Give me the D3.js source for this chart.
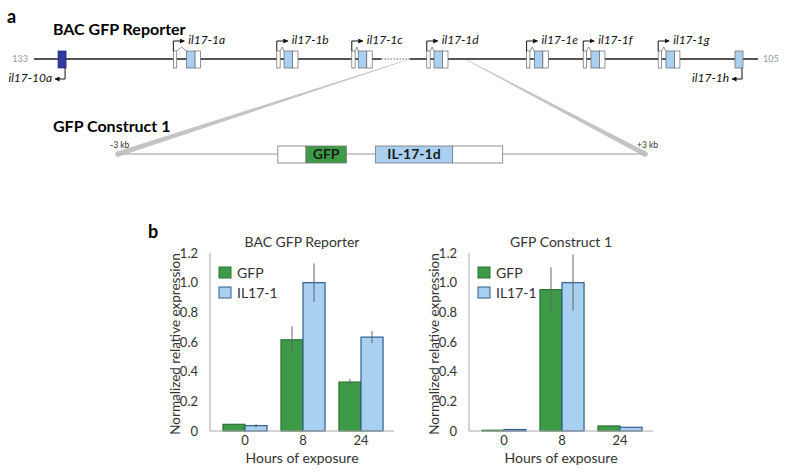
<!DOCTYPE html>
<html>
<head>
<meta charset="utf-8">
<script src="https://cdn.jsdelivr.net/npm/d3@7"></script>
<style>
  body { margin: 0; background: #fff; }
  svg { display: block; font-family: Lato, "Open Sans", sans-serif; }
</style>
</head>
<body>
<div id="chart"></div>
<script>
// ---- panel a: BAC locus (positions in kb from the left end of the BAC) ----
const bacEnds = ["133", "105"];
const bacLength = 28;
const forwardGenes = [
    { name: "il17-1a", tss: 5.39, ex2: 5.90 },
    { name: "il17-1b", tss: 9.39, ex2: 9.67 },
    { name: "il17-1c", tss: 12.29, ex2: 12.54 },
    { name: "il17-1d", tss: 15.19, ex2: 15.47 },
    { name: "il17-1e", tss: 19.05, ex2: 19.35 },
    { name: "il17-1f", tss: 21.24, ex2: 21.54 },
    { name: "il17-1g", tss: 24.14, ex2: 24.44 }
];
const reverseGenes = [
    { name: "il17-10a", start: 0.93, end: 1.24, kind: "dark" },
    { name: "il17-1h", start: 27.11, end: 27.42, kind: "light" }
];
const gapRegion = [13.44, 14.54];
const zoomRegion = [14.54, 16.67];

// construct, kb relative to il17-1d
const constructEnds = ["-3 kb", "+3 kb"];
const constructParts = [
    { label: "", start: -1.18, end: -0.86, kind: "utr" },
    { label: "GFP", start: -0.86, end: -0.40, kind: "gfp" },
    { label: "IL-17-1d", start: -0.07, end: 0.81, kind: "light" },
    { label: "", start: 0.81, end: 1.38, kind: "utr" }
];

// ---- panel b: expression ----
const hours = ["0", "8", "24"];
const seriesNames = ["GFP", "IL17-1"];
const yTicks = [0, 0.2, 0.4, 0.6, 0.8, 1.0, 1.2];
const bacGFP = [0.045, 0.615, 0.33];
const bacGFPErr = [0.004, 0.09, 0.02];
const bacIL17 = [0.036, 1.0, 0.633];
const bacIL17Err = [0.012, 0.13, 0.04];
const conGFP = [0.005, 0.953, 0.034];
const conGFPErr = [0.002, 0.15, 0.004];
const conIL17 = [0.01, 1.0, 0.025];
const conIL17Err = [0.002, 0.19, 0.003];

const colors = {
    gfp: "#3d9a47", gfpStroke: "#2c7436",
    light: "#a9d0f0", lightStroke: "#2f5f8c",
    dark: "#2e3a9e", utr: "#ffffff"
};

const W = 793, H = 475;
const svg = d3.select("#chart").append("svg").attr("width", W).attr("height", H);

// arrowhead marker
svg.append("defs").append("marker")
    .attr("id", "arr").attr("viewBox", "0 0 10 10")
    .attr("refX", 9).attr("refY", 5)
    .attr("markerWidth", 5).attr("markerHeight", 5)
    .attr("markerUnits", "userSpaceOnUse")
    .attr("orient", "auto")
    .append("path").attr("d", "M0,0L10,5L0,10Z").attr("fill", "#111");

// ================= panel a =================
const gx = d3.scaleLinear().domain([0, bacLength]).range([34, 758]);
const lineY = 59, exTop = 51, exH = 17;

svg.append("text").attr("x", 7).attr("y", 23).style("font-size", "18px").style("font-weight", "bold").text("a");
svg.append("text").attr("x", 53).attr("y", 35).style("font-size", "16px").style("font-weight", "bold").text("BAC GFP Reporter");

// zoom wedges to construct
const cx = d3.scaleLinear().domain([-3, 3]).range([118, 645]);
const cY = 154;
function wedge(x1, y1, x2, y2) {
    const dx = x2 - x1, dy = y2 - y1, len = Math.hypot(dx, dy);
    const nx = -dy / len, ny = dx / len;
    const w1 = 0.3, w2 = 2.6;
    return [[x1 + nx * w1, y1 + ny * w1], [x2 + nx * w2, y2 + ny * w2],
            [x2 - nx * w2, y2 - ny * w2], [x1 - nx * w1, y1 - ny * w1]];
}
[[zoomRegion[0], -3], [zoomRegion[1], 3]].forEach(([g, c]) => {
    svg.append("path")
        .attr("d", d3.line()(wedge(gx(g), lineY, cx(c), cY)) + "Z")
        .attr("fill", "#c4c4c4");
    svg.append("circle").attr("cx", cx(c)).attr("cy", cY).attr("r", 2.8).attr("fill", "#c4c4c4");
});

// genome line (solid parts + dotted gap)
svg.append("line").attr("x1", gx(0)).attr("x2", gx(gapRegion[0])).attr("y1", lineY).attr("y2", lineY)
    .attr("stroke", "#555").attr("stroke-width", 1.8);
svg.append("line").attr("x1", gx(gapRegion[0])).attr("x2", gx(gapRegion[1])).attr("y1", lineY).attr("y2", lineY)
    .attr("stroke", "#999").attr("stroke-width", 1.5).attr("stroke-dasharray", "1.5,1.5");
svg.append("line").attr("x1", gx(gapRegion[1])).attr("x2", gx(bacLength)).attr("y1", lineY).attr("y2", lineY)
    .attr("stroke", "#555").attr("stroke-width", 1.8);

svg.append("text").attr("x", gx(0) - 6).attr("y", lineY + 3).attr("text-anchor", "end")
    .style("font-size", "9px").attr("fill", "#999").text(bacEnds[0]);
svg.append("text").attr("x", gx(bacLength) + 5).attr("y", lineY + 3)
    .style("font-size", "9px").attr("fill", "#999").text(bacEnds[1]);

// forward genes
const exon1 = 0.13, exon2 = 0.33, utr3 = 0.21;
forwardGenes.forEach(d => {
    const g = svg.append("g");
    // caret intron
    g.append("path")
        .attr("d", d3.line()([[gx(d.tss + exon1), exTop], [(gx(d.tss + exon1) + gx(d.ex2)) / 2, exTop - 4], [gx(d.ex2), exTop]]))
        .attr("fill", "none").attr("stroke", "#777").attr("stroke-width", 0.8);
    const boxes = [
        [d.tss, d.tss + exon1, "#fff"],
        [d.ex2, d.ex2 + exon2, colors.light],
        [d.ex2 + exon2, d.ex2 + exon2 + utr3, "#fff"]
    ];
    boxes.forEach(b => {
        g.append("rect").attr("x", gx(b[0])).attr("y", exTop)
            .attr("width", gx(b[1]) - gx(b[0])).attr("height", exH)
            .attr("fill", b[2]).attr("stroke", "#666").attr("stroke-width", 0.7);
    });
    // promoter arrow
    const ax = gx(d.tss);
    g.append("path").attr("d", `M${ax},${exTop}V${exTop - 10}H${ax + 11}`)
        .attr("fill", "none").attr("stroke", "#111").attr("stroke-width", 1).attr("marker-end", "url(#arr)");
    g.append("text").attr("x", ax + 15).attr("y", exTop - 7)
        .style("font-size", "12px").style("font-style", "italic").attr("fill", "#111").text(d.name);
});

// reverse genes
reverseGenes.forEach(d => {
    svg.append("rect").attr("x", gx(d.start)).attr("y", exTop)
        .attr("width", gx(d.end) - gx(d.start)).attr("height", exH)
        .attr("fill", colors[d.kind]).attr("stroke", d.kind === "dark" ? "#1e2670" : "#666").attr("stroke-width", 0.7);
    const ax = gx(d.end) - 1;
    svg.append("path").attr("d", `M${ax},${exTop + exH}V${exTop + exH + 11}H${ax - 10}`)
        .attr("fill", "none").attr("stroke", "#111").attr("stroke-width", 1).attr("marker-end", "url(#arr)");
    svg.append("text").attr("x", ax - 13).attr("y", exTop + exH + 14).attr("text-anchor", "end")
        .style("font-size", "12px").style("font-style", "italic").attr("fill", "#111").text(d.name);
});

// construct
svg.append("text").attr("x", 53).attr("y", 132).style("font-size", "16px").style("font-weight", "bold").text("GFP Construct 1");
svg.append("line").attr("x1", cx(-3)).attr("x2", cx(3)).attr("y1", cY).attr("y2", cY)
    .attr("stroke", "#bbb").attr("stroke-width", 1.5);
constructParts.forEach(p => {
    svg.append("rect").attr("x", cx(p.start)).attr("y", cY - 8)
        .attr("width", cx(p.end) - cx(p.start)).attr("height", 17)
        .attr("fill", colors[p.kind]).attr("stroke", "#777").attr("stroke-width", 0.8);
    if (p.label) {
        svg.append("text").attr("x", (cx(p.start) + cx(p.end)) / 2).attr("y", cY + 5)
            .attr("text-anchor", "middle").style("font-size", "14px").style("font-weight", "bold")
            .attr("fill", "#1a1a1a").text(p.label);
    }
});
svg.append("text").attr("x", cx(-3) - 8).attr("y", cY - 6).style("font-size", "8.5px").attr("fill", "#333").text(constructEnds[0]);
svg.append("text").attr("x", cx(3) - 8).attr("y", cY - 6).style("font-size", "8.5px").attr("fill", "#333").text(constructEnds[1]);

// ================= panel b =================
svg.append("text").attr("x", 148).attr("y", 238).style("font-size", "18px").style("font-weight", "bold").text("b");

const y = d3.scaleLinear().domain([0, 1.2]).range([431, 253]);

function drawBars(x0, title, gfp, gfpErr, il, ilErr) {
    const g = svg.append("g");
    const x = d3.scaleBand().domain(hours).range([x0 + 6, x0 + 180]).paddingInner(0.24).paddingOuter(0.12);
    const xs = d3.scaleBand().domain(seriesNames).range([0, x.bandwidth()]);

    const rows = hours.map((h, i) => [
        { h, s: "GFP", v: gfp[i], e: gfpErr[i] },
        { h, s: "IL17-1", v: il[i], e: ilErr[i] }
    ]).flat();

    g.selectAll(".bar").data(rows).enter().append("rect")
        .attr("x", d => x(d.h) + xs(d.s))
        .attr("y", d => y(d.v))
        .attr("width", xs.bandwidth())
        .attr("height", d => y(0) - y(d.v))
        .attr("fill", d => d.s === "GFP" ? colors.gfp : colors.light)
        .attr("stroke", d => d.s === "GFP" ? colors.gfpStroke : colors.lightStroke)
        .attr("stroke-width", 1.2);

    g.selectAll(".err").data(rows).enter().append("line")
        .attr("x1", d => x(d.h) + xs(d.s) + xs.bandwidth() / 2)
        .attr("x2", d => x(d.h) + xs(d.s) + xs.bandwidth() / 2)
        .attr("y1", d => y(d.v + d.e))
        .attr("y2", d => y(d.v - d.e))
        .attr("stroke", "#666").attr("stroke-width", 1);

    // axes lines
    g.append("line").attr("x1", x0).attr("x2", x0).attr("y1", y(1.2)).attr("y2", y(0)).attr("stroke", "#aaa");
    g.append("line").attr("x1", x0).attr("x2", x0 + 184).attr("y1", y(0)).attr("y2", y(0)).attr("stroke", "#aaa");

    g.selectAll(".yt").data(yTicks).enter().append("text")
        .attr("x", x0 - 12).attr("y", d => y(d) + 4.5).attr("text-anchor", "end")
        .style("font-size", "13px").attr("fill", "#333")
        .text(d => d === 0 ? "0" : d3.format(".1f")(d));

    g.selectAll(".xt").data(hours).enter().append("text")
        .attr("x", d => x(d) + x.bandwidth() / 2).attr("y", 445).attr("text-anchor", "middle")
        .style("font-size", "13px").attr("fill", "#333").text(d => d);

    g.append("text").attr("x", x0 + 92).attr("y", 463).attr("text-anchor", "middle")
        .style("font-size", "14px").attr("fill", "#333").text("Hours of exposure");

    g.append("text").attr("transform", `translate(${x0 - 30},${(y(0) + y(1.2)) / 2 + 2}) rotate(-90)`)
        .attr("text-anchor", "middle").style("font-size", "13.5px").attr("fill", "#333")
        .text("Normalized relative expression");

    g.append("text").attr("x", x0 + 92).attr("y", 247).attr("text-anchor", "middle")
        .style("font-size", "14px").attr("fill", "#333").text(title);

    // legend
    seriesNames.forEach((s, i) => {
        g.append("rect").attr("x", x0 + 9).attr("y", 267 + i * 20).attr("width", 12).attr("height", 11)
            .attr("fill", s === "GFP" ? colors.gfp : colors.light)
            .attr("stroke", s === "GFP" ? colors.gfpStroke : colors.lightStroke).attr("stroke-width", 1);
        g.append("text").attr("x", x0 + 27).attr("y", 278 + i * 20)
            .style("font-size", "14px").attr("fill", "#333").text(s);
    });
}

drawBars(210, "BAC GFP Reporter", bacGFP, bacGFPErr, bacIL17, bacIL17Err);
drawBars(469, "GFP Construct 1", conGFP, conGFPErr, conIL17, conIL17Err);
</script>
</body>
</html>
